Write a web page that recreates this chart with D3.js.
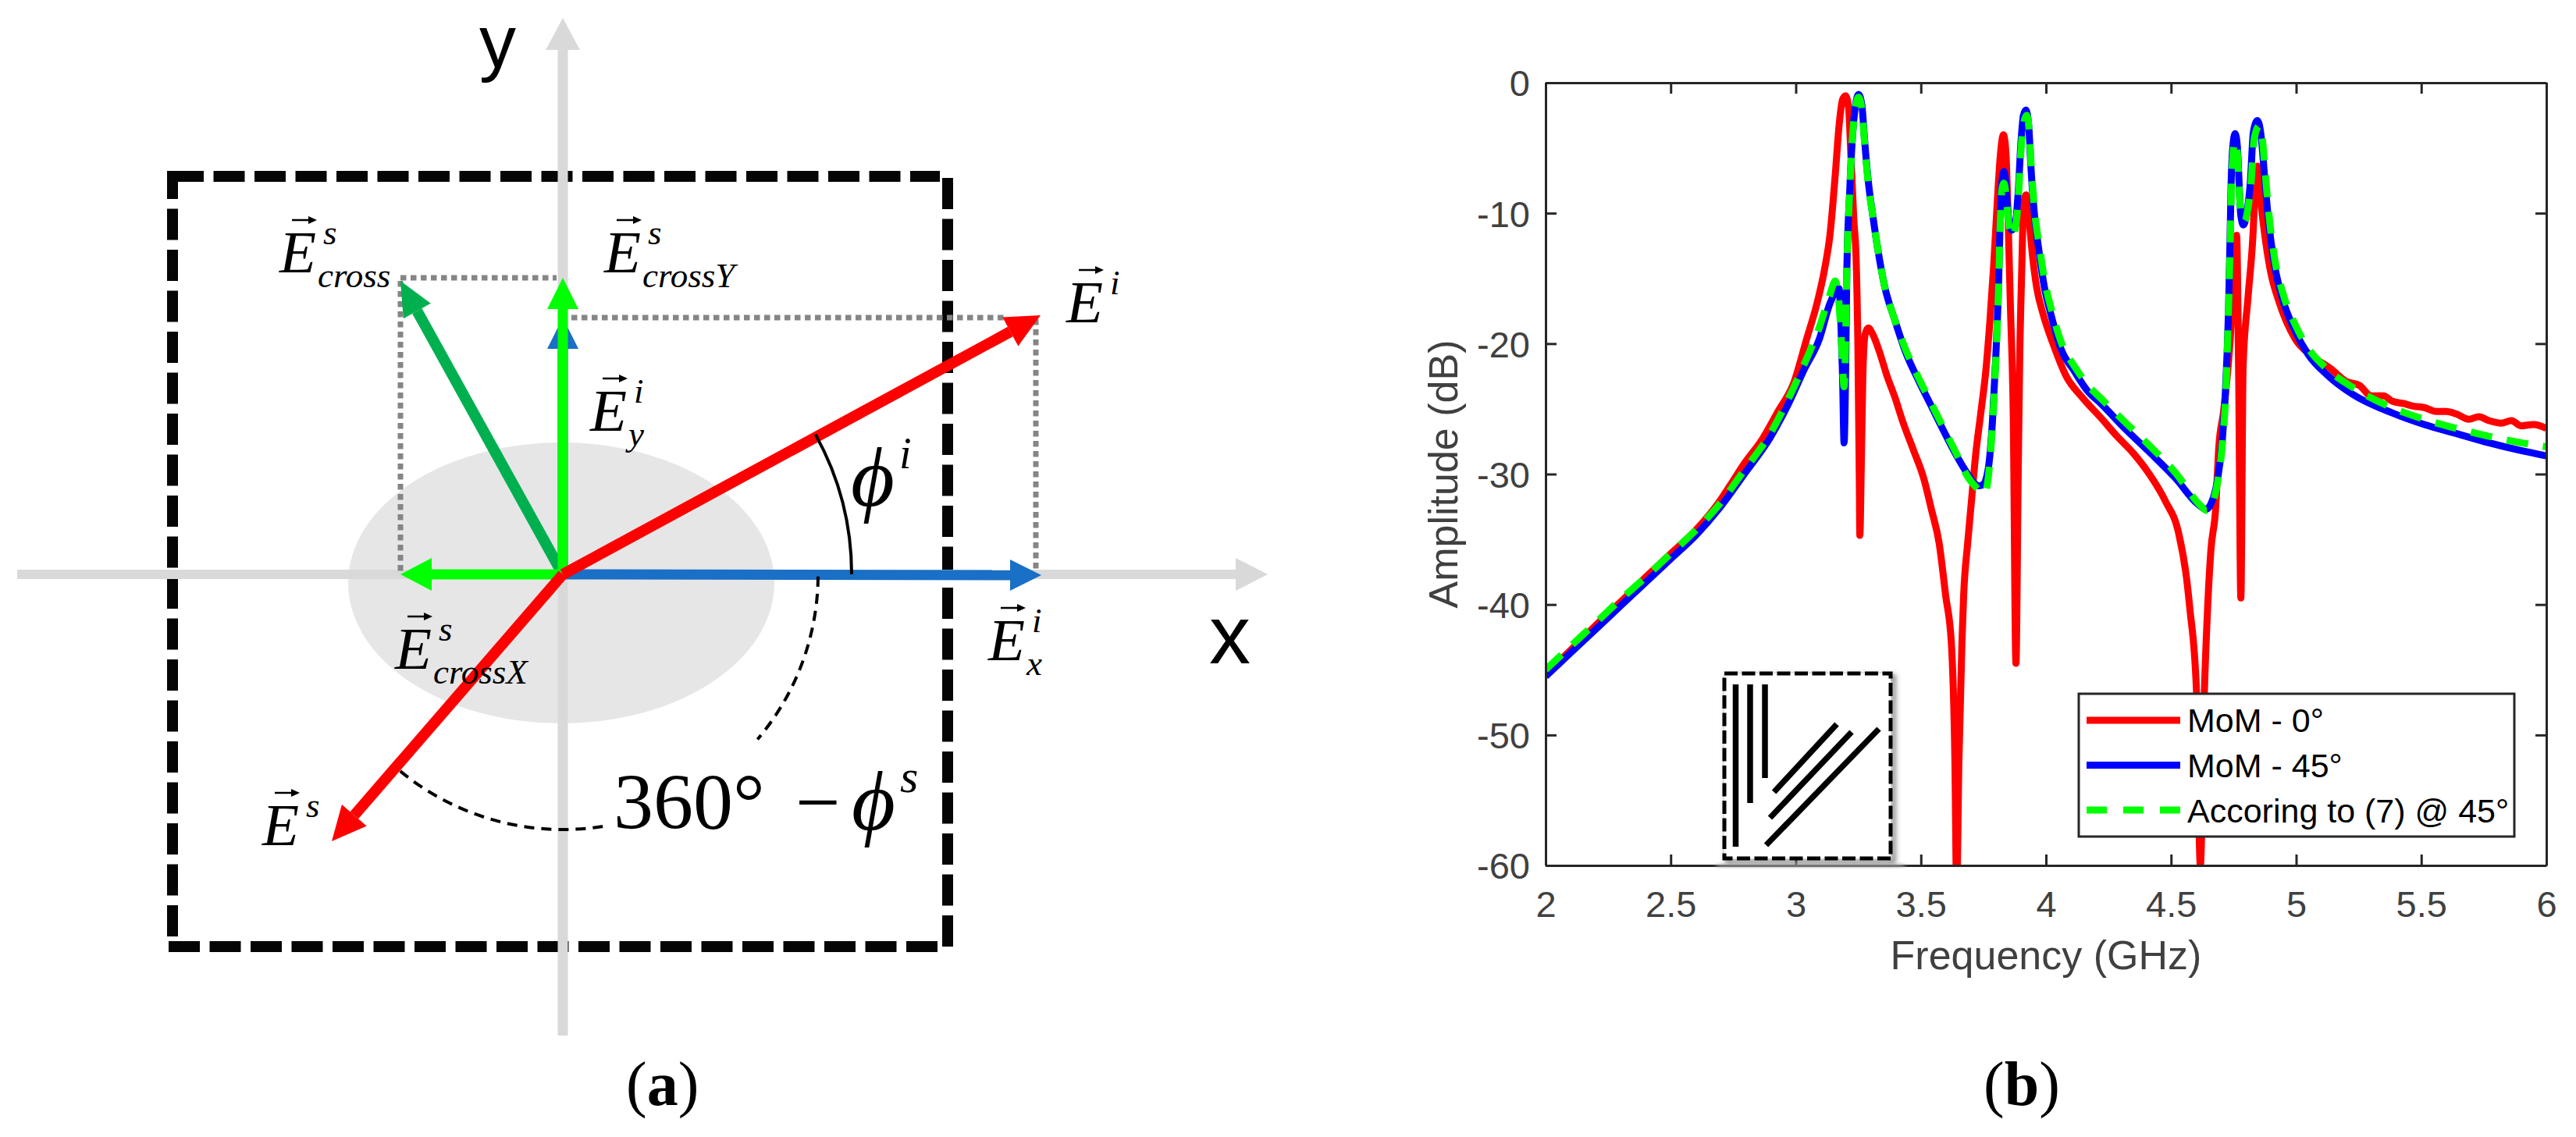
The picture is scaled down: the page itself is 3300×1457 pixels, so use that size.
<![CDATA[<!DOCTYPE html>
<html><head><meta charset="utf-8">
<script src="https://cdn.jsdelivr.net/npm/d3@7"></script>
<style>html,body{margin:0;padding:0;background:#fff;overflow:hidden}svg{display:block}</style></head>
<body><svg id="fig" width="3300" height="1457" xmlns="http://www.w3.org/2000/svg"></svg>
<script>
// ---------- panel (b) data ----------
const freqTicks=[2,2.5,3,3.5,4,4.5,5,5.5,6];
const dbTicks=[0,-10,-20,-30,-40,-50,-60];
const legendLabels=["MoM - 0°","MoM - 45°","Accoring to (7) @ 45°"];
const xLabel="Frequency (GHz)", yLabel="Amplitude (dB)";

const mom0F=[2,2.1,2.2,2.3,2.4,2.5,2.6,2.691,2.743,2.794,2.867,2.929,2.992,3.044,3.085,3.116,3.137,3.158,3.173,3.187,3.199,3.211,3.22,3.232,3.241,3.248,3.254,3.256,3.262,3.268,3.277,3.29,3.308,3.334,3.365,3.396,3.428,3.469,3.511,3.542,3.573,3.599,3.622,3.636,3.643,3.652,3.664,3.671,3.687,3.703,3.718,3.739,3.76,3.775,3.791,3.807,3.817,3.83,3.84,3.848,3.858,3.869,3.88,3.889,3.895,3.903,3.91,3.92,3.931,3.947,3.962,3.988,4.03,4.081,4.144,4.22,4.284,4.349,4.413,4.478,4.53,4.562,4.575,4.602,4.617,4.633,4.646,4.659,4.678,4.691,4.71,4.736,4.752,4.762,4.77,4.779,4.788,4.807,4.827,4.837,4.846,4.855,4.872,4.898,4.93,4.995,5.059,5.137,5.2,5.253,5.3,5.35,5.382,5.43,5.47,5.512,5.56,5.6,5.641,5.69,5.73,5.77,5.82,5.86,5.899,5.95,6];
const mom0Db=[-45.3,-43.5,-41.6,-39.8,-37.9,-36.1,-34.3,-32.2,-30.7,-29.2,-27.3,-25.2,-23,-19.6,-16.9,-14.2,-11.6,-7,-3.3,-1.3,-1,-1.9,-5.4,-10.5,-13.4,-19.8,-30.5,-34.7,-29.2,-22.5,-19.3,-18.8,-19.3,-20.6,-22.5,-24.1,-26,-28.1,-30.3,-32.7,-35.3,-39.3,-43,-52,-62,-52,-43,-39.3,-35.3,-31.9,-28.7,-25.4,-22,-18.5,-14,-8.6,-5.7,-4,-5.4,-10,-17.2,-25.2,-44.5,-30,-21.2,-14.5,-9.7,-8.6,-10.2,-13.4,-15.6,-17.7,-20.1,-22.5,-24.1,-25.7,-27.1,-28.4,-30,-32.1,-34.5,-38,-40.3,-46.8,-60,-46.8,-40.3,-35.9,-32.7,-27.9,-25.2,-19.8,-14.5,-11.7,-22,-39.5,-21.7,-16.6,-11.8,-7.8,-6.4,-8.4,-11.3,-14.5,-16.7,-19.6,-20.9,-21.9,-22.9,-23.2,-24,-24,-24.4,-24.6,-24.8,-24.9,-25.2,-25.2,-25.4,-25.8,-25.6,-25.9,-26.1,-25.9,-26.3,-26.2,-26.5];

const mom45F=[2,2.1,2.2,2.3,2.4,2.5,2.6,2.691,2.794,2.898,2.971,3.033,3.095,3.137,3.173,3.181,3.187,3.193,3.199,3.204,3.215,3.225,3.239,3.251,3.264,3.275,3.29,3.308,3.329,3.355,3.396,3.438,3.49,3.542,3.594,3.646,3.687,3.713,3.732,3.749,3.77,3.786,3.799,3.81,3.817,3.824,3.832,3.84,3.848,3.863,3.876,3.889,3.9,3.91,3.92,3.931,3.941,3.952,3.972,3.993,4.019,4.06,4.113,4.165,4.22,4.31,4.413,4.517,4.607,4.64,4.659,4.685,4.704,4.717,4.73,4.736,4.74,4.747,4.756,4.765,4.773,4.779,4.789,4.801,4.817,4.829,4.845,4.86,4.873,4.889,4.911,4.943,4.995,5.047,5.124,5.227,5.382,5.512,5.641,5.77,5.899,6];
const mom45Db=[-45.5,-43.7,-41.9,-40.1,-38.3,-36.5,-34.7,-32.7,-30,-27.2,-24.6,-22,-19.6,-16.9,-15.8,-18.8,-22.5,-27.6,-22.5,-14.5,-8.6,-4.6,-1.7,-0.9,-1.7,-4.4,-7.6,-10.2,-12.9,-15.6,-18.2,-20.6,-22.8,-24.8,-26.8,-28.7,-30,-30.7,-30.9,-30.8,-29.5,-26,-21.2,-15.8,-10.5,-7.6,-6.8,-7.8,-10,-11.3,-11,-8.4,-4.6,-2.5,-2.1,-3.3,-6.8,-9.7,-12.9,-15.6,-17.7,-20.4,-22.1,-23.6,-24.6,-26.4,-28.3,-30.3,-32.3,-32.7,-32.3,-30.5,-27.6,-23.8,-17.2,-11.8,-7.8,-4.9,-3.9,-4.9,-8.1,-10.2,-10.9,-10.2,-7.6,-3.8,-2.9,-4.1,-7,-10.5,-13.7,-16.4,-19,-20.8,-22.4,-23.9,-25.3,-26.2,-26.9,-27.6,-28.2,-28.6];

const eqF=[2,2.1,2.2,2.3,2.4,2.5,2.6,2.691,2.794,2.898,2.971,3.033,3.095,3.137,3.158,3.173,3.183,3.193,3.199,3.204,3.215,3.225,3.239,3.25,3.264,3.275,3.29,3.308,3.329,3.355,3.396,3.438,3.49,3.542,3.594,3.646,3.687,3.72,3.742,3.755,3.772,3.786,3.799,3.81,3.817,3.824,3.832,3.84,3.848,3.863,3.876,3.889,3.9,3.912,3.923,3.933,3.943,3.954,3.975,3.996,4.022,4.063,4.116,4.168,4.225,4.315,4.418,4.522,4.612,4.643,4.664,4.688,4.706,4.719,4.73,4.737,4.741,4.748,4.756,4.765,4.773,4.781,4.795,4.806,4.82,4.833,4.853,4.866,4.878,4.894,4.916,4.948,5,5.05,5.127,5.23,5.382,5.512,5.641,5.77,5.899,6];
const eqDb=[-45,-43.2,-41.4,-39.6,-37.9,-36.1,-34.3,-32.4,-29.7,-26.9,-24.2,-21.6,-18.7,-16.2,-15.2,-17,-20,-23.3,-20,-14.5,-8.6,-4.6,-1.9,-1.1,-2,-4.6,-7.8,-10.2,-12.9,-15.6,-18.2,-20.4,-22.6,-24.6,-26.6,-28.6,-30.2,-31,-31.4,-31.5,-29.8,-26.3,-21.5,-16,-10.8,-8.2,-7.7,-8.5,-10.3,-11.8,-11.3,-9,-5.2,-3,-2.5,-3.7,-7,-9.7,-12.7,-15.3,-17.4,-20,-21.8,-23.2,-24.3,-26,-27.9,-30,-32.3,-32.8,-32.3,-30.4,-27.5,-23.7,-17.2,-11.8,-8.2,-5.4,-4.5,-5.4,-8.4,-10.2,-10.6,-9.8,-7.6,-4.2,-3.3,-4.5,-7.3,-10.6,-13.7,-16.2,-18.7,-20.4,-22,-23.4,-24.9,-25.8,-26.5,-27.1,-27.6,-27.9];

// ---------- panel (a) schematic values, in field units around the origin ----------
const axisEnds={left:-699,right:903,top:713,bottom:-591};
const boxSides=[[-500,510,483,510,0],[493,-477,493,508,0],[480,-477,-506,-477,0],[-500,517,-500,-464,4]];
const blob=[-2,-11,273,180];
const vecIncident=[612,332], vecScattered=[-296,-342], vecCross=[-208,376];
const vecIx=[613,-1], vecIyBehind=[0,329], vecCrossY=[0,380], vecCrossX=[-208,0];
const dotted=[[-208,380,-8,380],[-208,376,-208,2],[11,329,570,329],[606,327,606,2]];
const phiIArcDeg=[0,29], phiSArcDeg=[0.5,40.3], phiSArc2Deg=[81,129.6];
const phiIRadius=370, phiSRadius=327;

const fig=d3.select("#fig");
const serif="'Liberation Serif','Times New Roman',serif";
const sans="'Liberation Sans',Arial,sans-serif";

// ---------- panel (a) ----------
const ax=d3.scaleLinear().domain([0,1]).range([721,722]);
const ay=d3.scaleLinear().domain([0,1]).range([736,735]);
const A=fig.append("g");
A.append("ellipse").attr("cx",ax(blob[0])).attr("cy",ay(blob[1])).attr("rx",blob[2]).attr("ry",blob[3]).attr("fill","#e6e6e6");

function arrow(g,v0,v1,color,w,hl,hw){
  const x0=ax(v0[0]),y0=ay(v0[1]),x1=ax(v1[0]),y1=ay(v1[1]);
  const L=Math.hypot(x1-x0,y1-y0),ux=(x1-x0)/L,uy=(y1-y0)/L,bx=x1-ux*hl,by=y1-uy*hl;
  g.append("line").attr("x1",x0).attr("y1",y0).attr("x2",bx).attr("y2",by).attr("stroke",color).attr("stroke-width",w);
  g.append("polygon").attr("points",[[x1,y1],[bx-uy*hw,by+ux*hw],[bx+uy*hw,by-ux*hw]].map(p=>p.join(",")).join(" ")).attr("fill",color);
}
boxSides.forEach(s=>A.append("line").attr("x1",ax(s[0])).attr("y1",ay(s[1])).attr("x2",ax(s[2])).attr("y2",ay(s[3]))
  .attr("stroke","#050505").attr("stroke-width",14).attr("stroke-dasharray","40 12.5").attr("stroke-dashoffset",s[4]));
const gray="#d9d9d9";
arrow(A,[axisEnds.left,0],[axisEnds.right,0],gray,12,41,21);
arrow(A,[0,axisEnds.bottom],[0,axisEnds.top],gray,13,41,22);

dotted.forEach(d=>A.append("line").attr("x1",ax(d[0])).attr("y1",ay(d[1])).attr("x2",ax(d[2])).attr("y2",ay(d[3])).attr("stroke","#858585").attr("stroke-width",7).attr("stroke-dasharray","7.5 5.5"));

arrow(A,[0,0],vecIyBehind,"#1a6fc6",13,40,20);
arrow(A,[0,0],vecIx,"#1a6fc6",13,40,20);
arrow(A,[0,0],vecCross,"#00b04f",14,44,20);
arrow(A,[0,0],vecCrossY,"#00ff00",13,40,20);
arrow(A,[0,0],vecCrossX,"#00ff00",13,40,21);
arrow(A,[0,0],vecIncident,"#ff0000",14,44,21);
arrow(A,[0,0],vecScattered,"#ff0000",14,44,21);

const rad=d=>d*Math.PI/180;
function arc(r,a0,a1,w,dash){
  const p=d3.path();
  p.arc(ax(0),ay(0),r,rad(a0),rad(a1),a1<a0);
  const s=A.append("path").attr("d",p.toString()).attr("fill","none").attr("stroke","#000").attr("stroke-width",w);
  if(dash)s.attr("stroke-dasharray",dash);
}
arc(phiIRadius,0,-phiIArcDeg[1],4);
arc(phiSRadius,phiSArcDeg[0],phiSArcDeg[1],4,"13 9");
arc(phiSRadius,phiSArc2Deg[0],phiSArc2Deg[1],4,"13 9");

const vecLabels=[
 {x:358,y:349,sup:"s",sub:"cross"},
 {x:774,y:349,sup:"s",sub:"crossY"},
 {x:1366,y:413,sup:"i",sub:""},
 {x:756,y:552,sup:"i",sub:"y"},
 {x:506,y:857,sup:"s",sub:"crossX"},
 {x:1266,y:846,sup:"i",sub:"x"},
 {x:336,y:1083,sup:"s",sub:""}
];
vecLabels.forEach(l=>{
  const g=A.append("g").attr("font-family",serif).attr("font-style","italic");
  g.append("text").attr("x",l.x).attr("y",l.y).attr("font-size",77).text("E");
  g.append("text").attr("x",l.x+56).attr("y",l.y-36).attr("font-size",45).text(l.sup);
  if(l.sub)g.append("text").attr("x",l.x+49).attr("y",l.y+19).attr("font-size",45).text(l.sub);
  g.append("path").attr("d",`M${l.x+16} ${l.y-67}H${l.x+40}`).attr("stroke","#000").attr("stroke-width",2.5);
  g.append("path").attr("d",`M${l.x+48} ${l.y-67}l-11 -5v10z`).attr("fill","#000");
});
const greek=(x,y,t,tx,ty,size,ss)=>{
  const g=A.append("g").attr("font-family",serif).attr("font-style","italic");
  g.append("text").attr("x",x).attr("y",y).attr("font-size",size).text("ϕ");
  g.append("text").attr("x",tx).attr("y",ty).attr("font-size",ss).text(t);
};
greek(1090,648,"i",1152,600,108,56);
A.append("text").attr("x",786).attr("y",1062).attr("font-family",serif).attr("font-size",102).text("360°");
A.append("text").attr("x",1019).attr("y",1062).attr("font-family",serif).attr("font-size",102).text("−");
greek(1091,1063,"s",1153,1015,108,60);
A.append("text").attr("x",614).attr("y",86).attr("font-family",sans).attr("font-size",94).text("y");
A.append("text").attr("x",1549).attr("y",850).attr("font-family",sans).attr("font-size",106).text("x");

const caption=(x,y,letter)=>{
  const base=()=>fig.append("text").attr("y",y).attr("font-family",serif).attr("font-size",80);
  const a=base().attr("x",x).text("(");
  const ax1=x+a.node().getComputedTextLength();
  const b=base().attr("x",ax1).attr("font-weight","bold").text(letter);
  base().attr("x",ax1+b.node().getComputedTextLength()).text(")");
};
caption(802,1416,"a");
caption(2541,1416,"b");

// ---------- panel (b) ----------
const L=1980,R=3262,T=106,B=1109;
const x=d3.scaleLinear().domain([2,6]).range([L,R]);
const y=d3.scaleLinear().domain([0,-60]).range([T,B]);
const P=fig.append("g");
fig.append("defs").html(`<clipPath id="plotClip"><rect x="${L}" y="${T}" width="${R-L+5}" height="${B-T}"/></clipPath>
<filter id="soft" x="-10%" y="-10%" width="120%" height="120%"><feGaussianBlur stdDeviation="3"/></filter>`);
const line=d3.line().x(d=>x(d[0])).y(d=>y(d[1])).curve(d3.curveMonotoneX);
const curves=[
 {f:mom0F,v:mom0Db,c:"#ff0000"},
 {f:mom45F,v:mom45Db,c:"#0000ff"},
 {f:eqF,v:eqDb,c:"#00ff00",dash:"28 19"}
];
const lg=P.append("g").attr("clip-path","url(#plotClip)");
curves.forEach(s=>{
  lg.append("path").attr("d",line(d3.zip(s.f,s.v))).attr("fill","none").attr("stroke",s.c).attr("stroke-width",9)
   .attr("stroke-linejoin","round").attr("stroke-dasharray",s.dash||null);
});

function styleAxis(g,labels){
  g.select(".domain").attr("stroke","#262626").attr("stroke-width",3);
  g.selectAll(".tick line").attr("stroke","#262626").attr("stroke-width",3);
  g.selectAll("text").attr("font-family",sans).attr("font-size",47).attr("fill","#404040");
  if(!labels)g.selectAll("text").remove();
}
const fmt=d=>String(d);
styleAxis(P.append("g").attr("transform",`translate(0,${B})`).call(d3.axisBottom(x).tickValues(freqTicks).tickFormat(fmt).tickSizeInner(-14).tickSizeOuter(0).tickPadding(33)),true);
styleAxis(P.append("g").attr("transform",`translate(0,${T})`).call(d3.axisTop(x).tickValues(freqTicks).tickSizeInner(-14).tickSizeOuter(0)),false);
const yAxisG=P.append("g").attr("transform",`translate(${L},0)`).call(d3.axisLeft(y).tickValues(dbTicks).tickFormat(fmt).tickSizeInner(-14).tickSizeOuter(0).tickPadding(20));
styleAxis(yAxisG,true); yAxisG.selectAll("text").attr("dy","0.36em");
styleAxis(P.append("g").attr("transform",`translate(${R},0)`).call(d3.axisRight(y).tickValues(dbTicks).tickSizeInner(-14).tickSizeOuter(0)),false);

P.append("text").attr("x",(L+R)/2).attr("y",1242).attr("text-anchor","middle").attr("font-family",sans).attr("font-size",52).attr("fill","#404040").text(xLabel);
P.append("text").attr("x",1867).attr("y",(T+B)/2).attr("transform",`rotate(-90,1867,${(T+B)/2})`).attr("text-anchor","middle").attr("font-family",sans).attr("font-size",52).attr("fill","#404040").text(yLabel);

// inset geometry sketch
const I=P.append("g");
I.append("rect").attr("x",2199).attr("y",1106).attr("width",241).attr("height",6).attr("fill","#bdbdbd").attr("opacity",.8).attr("filter","url(#soft)");
I.append("rect").attr("x",2209).attr("y",863).attr("width",213).attr("height",237).attr("fill","#fff");
I.append("rect").attr("x",2213).attr("y",867).attr("width",213).attr("height",237).attr("fill","none").attr("stroke","#777").attr("stroke-width",5).attr("filter","url(#soft)");
I.append("rect").attr("x",2209).attr("y",863).attr("width",213).attr("height",237).attr("fill","#fff").attr("stroke","#000").attr("stroke-width",5).attr("stroke-dasharray","17 5.5");
const wires=[[2223.5,877,2223.5,1085],[2242,877,2242,1029],[2261,877,2261,997],[2353,928,2272.6,1015],[2372,938,2267.5,1048],[2407,934,2262.5,1083]];
wires.forEach(w=>I.append("line").attr("x1",w[0]).attr("y1",w[1]).attr("x2",w[2]).attr("y2",w[3]).attr("stroke","#000").attr("stroke-width",7.5));

// legend
const Lg=P.append("g");
Lg.append("rect").attr("x",2663).attr("y",889).attr("width",558).attr("height",183).attr("fill","#fff").attr("stroke","#262626").attr("stroke-width",3);
const rowY=d3.scalePoint().domain(legendLabels).range([923,1038]);
const rowBase=d3.scalePoint().domain(legendLabels).range([938,1054]);
legendLabels.forEach((t,i)=>{
  Lg.append("line").attr("x1",2673).attr("x2",2793).attr("y1",rowY(t)).attr("y2",rowY(t)).attr("stroke",curves[i].c).attr("stroke-width",9).attr("stroke-dasharray",curves[i].dash?"26 21":null);
  Lg.append("text").attr("x",2802).attr("y",rowBase(t)).attr("font-family",sans).attr("font-size",43).attr("fill","#000").text(t);
});
</script></body></html>]]>
